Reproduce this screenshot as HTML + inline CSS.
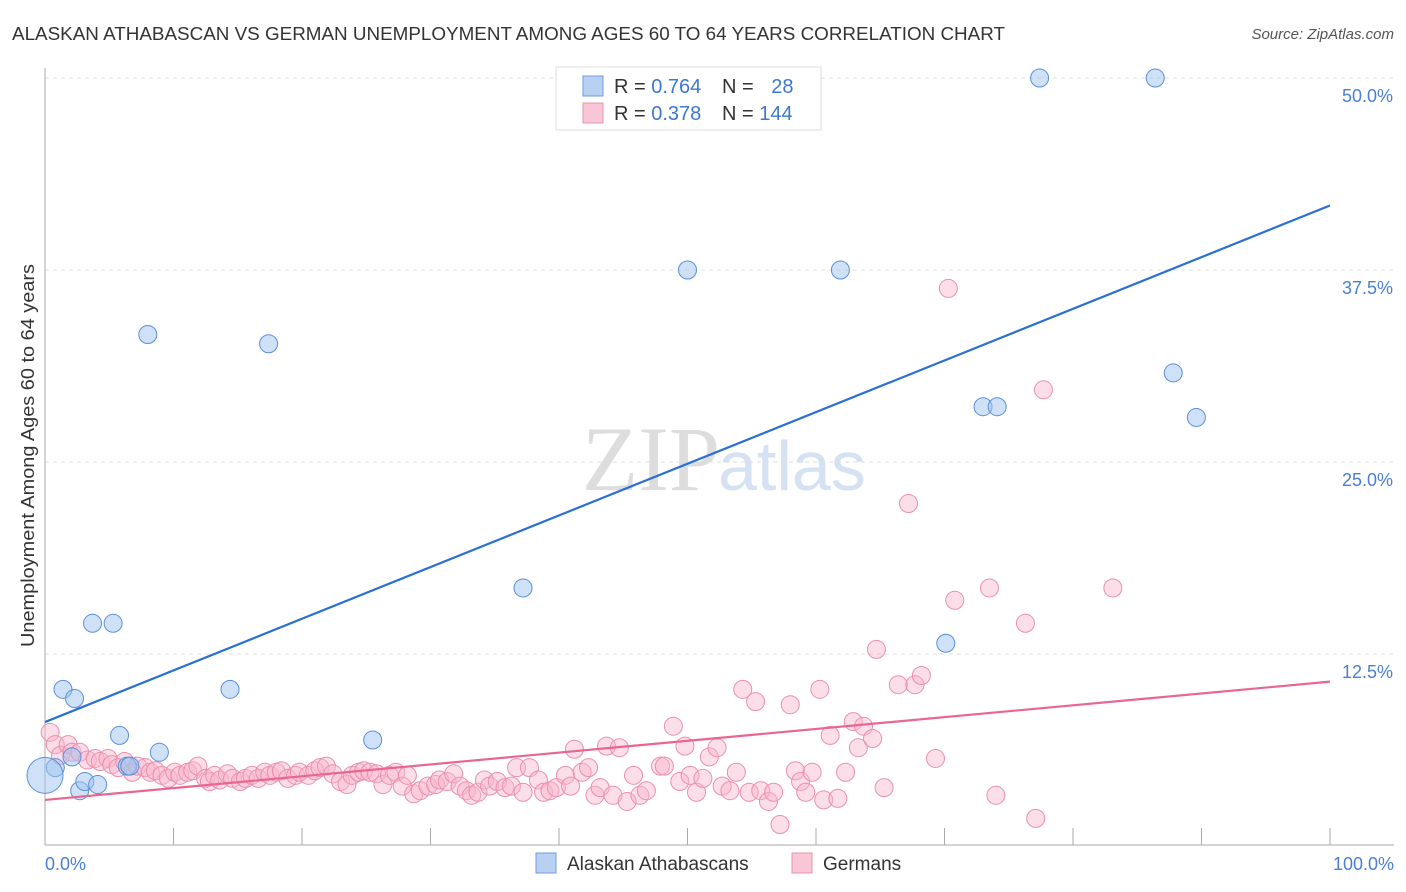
<!DOCTYPE html>
<html><head><meta charset="utf-8"><style>
body{margin:0;background:#fff;font-family:"Liberation Sans",sans-serif;}
</style></head><body>
<svg width="1406" height="892" style="display:block">
<text x="12" y="40" font-size="18" fill="#333" textLength="993" lengthAdjust="spacingAndGlyphs">ALASKAN ATHABASCAN VS GERMAN UNEMPLOYMENT AMONG AGES 60 TO 64 YEARS CORRELATION CHART</text>
<text x="1394" y="39" font-size="15" fill="#555" text-anchor="end" font-style="italic">Source: ZipAtlas.com</text>
<text x="720" y="490" font-size="92" fill="#ddd" text-anchor="end" font-family="Liberation Serif">ZIP</text>
<text x="718" y="490" font-size="70" fill="#d4e2f4">atlas</text>
<g id="grid"></g>
<g id="axes"></g>
<g id="pink"></g>
<g id="blue"></g>
<g id="lines"></g>
<text x="-647" y="34" transform="rotate(-90)" font-size="18" fill="#333" textLength="383" lengthAdjust="spacingAndGlyphs">Unemployment Among Ages 60 to 64 years</text>
<text x="45" y="870" font-size="18" fill="#4a7fd4">0.0%</text>
<text x="1394" y="870" font-size="18" fill="#4a7fd4" text-anchor="end">100.0%</text>
<g>
<rect x="556" y="67" width="265" height="63" fill="#fff" stroke="#ddd"/>
<rect x="583" y="76" width="20" height="20" fill="#b8d1f3" stroke="#6f9be0"/>
<rect x="583" y="103" width="20" height="20" fill="#f9c6d6" stroke="#e993b0"/>
<text x="614" y="93" font-size="20" fill="#333">R = <tspan fill="#3d78d0">0.764</tspan></text>
<text x="722" y="93" font-size="20" fill="#333">N = <tspan fill="#3d78d0" dx="12">28</tspan></text>
<text x="614" y="120" font-size="20" fill="#333">R = <tspan fill="#3d78d0">0.378</tspan></text>
<text x="722" y="120" font-size="20" fill="#333">N = <tspan fill="#3d78d0">144</tspan></text>
</g>
<g>
<rect x="536" y="853" width="20" height="20" fill="#b8d1f3" stroke="#6f9be0"/>
<text x="567" y="870" font-size="19" fill="#333">Alaskan Athabascans</text>
<rect x="792" y="853" width="20" height="20" fill="#f9c6d6" stroke="#e993b0"/>
<text x="823" y="870" font-size="19" fill="#333">Germans</text>
</g>
</svg>
<script>
const yTicks=[12.5,25,37.5,50];
const yTickLabels=["12.5%","25.0%","37.5%","50.0%"];
const xTicks=[0,10,20,30,40,50,60,70,80,90,100];
const blueX=[0.8,1.4,2.3,2.7,3.1,3.7,4.1,5.3,5.8,6.4,6.6,8.0,8.9,14.4,17.4,25.5,37.2,50.0,61.9,70.1,73.0,74.1,77.4,86.4,87.8,89.6,2.1];
const blueY=[5.1,10.2,9.6,3.6,4.2,14.5,4.0,14.5,7.2,5.2,5.2,33.3,6.1,10.2,32.7,6.9,16.8,37.5,37.5,13.2,28.6,28.6,50,50,30.8,27.9,5.8];
const pinkX=[0.4,0.8,1.2,1.8,2.1,2.7,3.3,3.9,4.3,4.9,5.2,5.7,6.2,6.8,7.2,7.8,8.2,8.6,9.1,9.6,10.1,10.5,11.1,11.5,11.9,12.5,12.8,13.2,13.6,14.2,14.6,15.2,15.6,16.1,16.6,17.1,17.5,18.0,18.4,18.9,19.5,19.8,20.5,21.0,21.4,21.9,22.4,23.0,23.5,23.9,24.4,24.8,25.3,25.8,26.3,26.8,27.3,27.8,28.2,28.7,29.2,29.8,30.4,30.7,31.3,31.8,32.3,32.8,33.2,33.7,34.2,34.6,35.2,35.8,36.3,36.7,37.2,37.7,38.4,38.8,39.3,39.8,40.5,40.9,41.2,41.8,42.3,42.8,43.2,43.7,44.2,44.7,45.3,45.8,46.3,46.8,47.9,48.2,48.9,49.4,49.8,50.2,50.7,51.2,51.7,52.3,52.7,53.3,53.8,54.3,54.8,55.3,55.7,56.3,56.7,57.2,58.0,58.4,58.8,59.2,59.7,60.3,60.6,61.1,61.7,62.3,62.9,63.3,63.7,64.4,64.7,65.3,66.4,67.2,67.7,68.2,69.3,70.3,70.8,73.5,74.0,76.3,77.1,77.7,83.1];
const pinkY=[7.4,6.6,5.9,6.6,6.1,6.1,5.6,5.7,5.5,5.7,5.3,5.1,5.5,4.8,5.2,5.1,4.8,4.9,4.6,4.4,4.8,4.6,4.8,4.9,5.2,4.4,4.2,4.6,4.3,4.7,4.4,4.2,4.4,4.6,4.4,4.8,4.6,4.8,4.9,4.4,4.6,4.8,4.6,4.9,5.1,5.2,4.7,4.2,4.0,4.6,4.8,4.9,4.8,4.7,4.0,4.6,4.8,3.9,4.6,3.4,3.6,3.9,4.0,4.3,4.2,4.7,3.9,3.6,3.3,3.5,4.3,3.9,4.2,3.8,3.9,5.1,3.5,5.1,4.3,3.5,3.6,3.8,4.6,3.9,6.3,4.8,5.1,3.3,3.8,6.5,3.3,6.4,2.9,4.6,3.3,3.6,5.2,5.2,7.8,4.2,6.5,4.6,3.5,4.4,5.8,6.4,3.9,3.6,4.8,10.2,3.5,9.4,3.6,2.9,3.5,1.4,9.2,4.9,4.2,3.5,4.8,10.2,3.0,7.2,3.1,4.8,8.1,6.4,7.8,7.0,12.8,3.8,10.5,22.3,10.5,11.1,5.7,36.3,16.0,16.8,3.3,14.5,1.8,29.7,16.8];
const blueTrend=[8.07,41.7];
const pinkTrend=[3.0,10.7];
const NS="http://www.w3.org/2000/svg";
const X=v=>45+v*12.85, Y=v=>846-v*15.36;
function mk(p,t,a){const e=document.createElementNS(NS,t);for(const k in a)e.setAttribute(k,a[k]);document.getElementById(p).appendChild(e);return e;}
yTicks.forEach((t,i)=>{
 const l=mk('grid','line',{x1:45,x2:1394,y1:Y(t),y2:Y(t),stroke:'#ddd','stroke-dasharray':'4,4'});
 
 
 const tx=mk('grid','text',{x:1393,y:Y(t)+24,'font-size':18,fill:'#4a7fd4','text-anchor':'end'});
 tx.textContent=yTickLabels[i];
 
 
});
mk('axes','line',{x1:45,x2:45,y1:68,y2:845,stroke:'#aaa'});
mk('axes','line',{x1:45,x2:1394,y1:845,y2:845,stroke:'#aaa'});
xTicks.forEach(t=>{const l=mk('axes','line',{x1:X(t),x2:X(t),y1:828,y2:845,stroke:'#aaa'});
 
 });
pinkX.forEach((v,i)=>{const c=mk('pink','circle',{cx:X(v),cy:Y(pinkY[i]),r:9,fill:'rgba(248,182,204,0.45)',stroke:'#ea8fae','stroke-width':1});
 
 });
blueX.forEach((v,i)=>{const c=mk('blue','circle',{cx:X(v),cy:Y(blueY[i]),r:9,fill:'rgba(160,196,240,0.5)',stroke:'#5b8fd8','stroke-width':1});
 
 });
const big=mk('blue','circle',{cx:X(0),cy:Y(4.6),r:18,fill:'rgba(160,196,240,0.5)',stroke:'#5b8fd8'});


const bl=mk('lines','line',{x1:X(0),y1:Y(blueTrend[0]),x2:X(100),y2:Y(blueTrend[1]),stroke:'#2a6fd6','stroke-width':2.2});


const pl=mk('lines','line',{x1:X(0),y1:Y(pinkTrend[0]),x2:X(100),y2:Y(pinkTrend[1]),stroke:'#e8668f','stroke-width':2.2});


</script>
</body></html>
